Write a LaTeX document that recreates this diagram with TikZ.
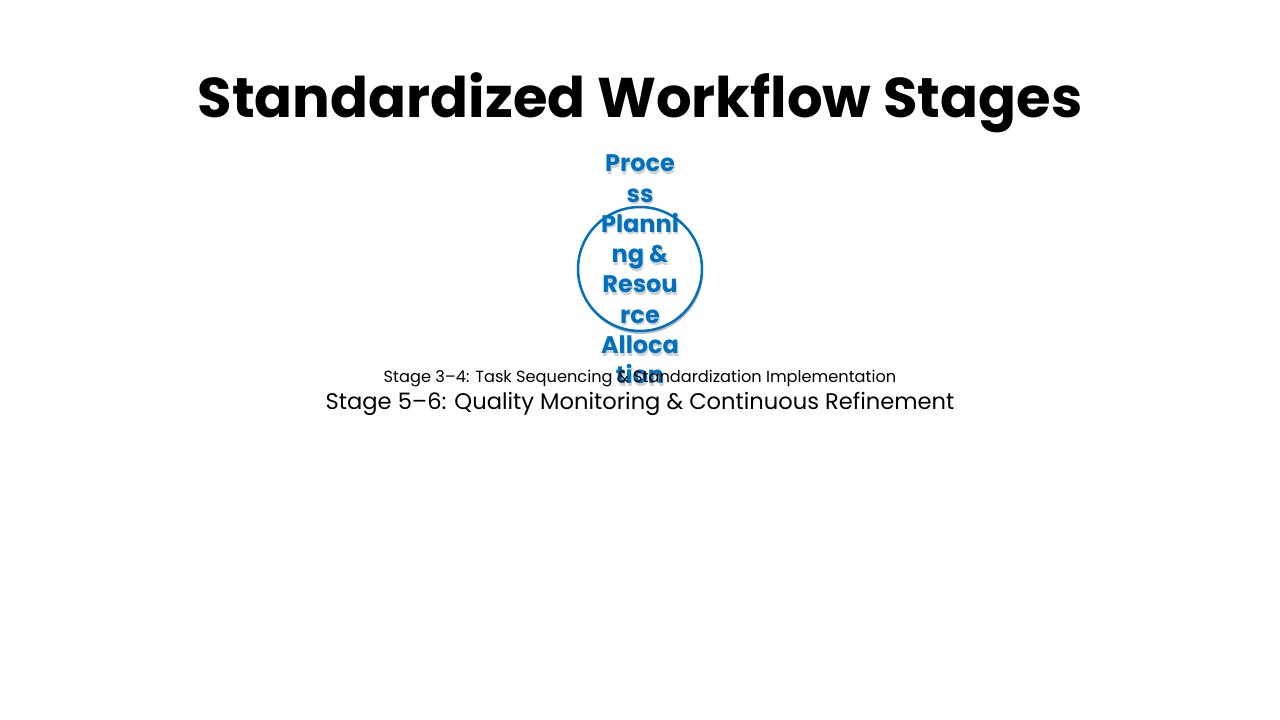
\documentclass[tikz,border=0pt]{standalone}
\usepackage{fontspec}
\setmainfont{Poppins}
\usetikzlibrary{positioning}
\usetikzlibrary{shadows}
\definecolor{stageblue}{HTML}{0070C0}
\tikzset {
  % heading of the slide
  heading/.style = {
    font = \fontsize{56}{60}\selectfont\bfseries,
    inner sep = 0
  },
  % stage circle
  stagering/.style = {
    draw = stageblue,
    circle,
    line width = 2.5pt,
    fill = white,
    minimum size = 124pt,
    inner sep = 0,
    drop shadow = {shadow xshift = 1pt, shadow yshift = -3pt,
      opacity = 0.25, fill = black}
  },
  % text in the circle
  stagetext/.style = {
    text = stageblue,
    align = center,
    font = \fontsize{24}{30.3}\selectfont\bfseries,
    inner sep = 0
  },
  ghost/.style = {
    stagetext,
    text = black,
    text opacity = 0.18
  },
  % plain stage lines
  small line/.style = {
    font = \fontsize{16.2}{18}\selectfont,
    inner sep = 0
  },
  big line/.style = {
    font = \fontsize{22.6}{26}\selectfont,
    inner sep = 0
  }
}

\begin{document}
\begin{tikzpicture}[x=1pt, y=-1pt]
    \useasboundingbox (0,0) rectangle (1280,720);

    \node[heading] (title) at (640,103) {Standardized Workflow Stages};

    \node[stagering] (ring) at (640,269) {};
    \node[ghost] (plan shadow) at (641,272)
      {Proce\\ss\\Planni\\ng \&\\Resou\\rce\\Alloca\\tion};
    \node[stagetext] (plan) at (640,269.5)
      {Proce\\ss\\Planni\\ng \&\\Resou\\rce\\Alloca\\tion};

    \node[small line] (stage 34) at (640,378.5)
      {Stage 3--4: Task Sequencing \& Standardization Implementation};
    \node[big line] (stage 56) [below=4.5pt of stage 34]
      {Stage 5--6: Quality Monitoring \& Continuous Refinement};
\end{tikzpicture}
\end{document}
